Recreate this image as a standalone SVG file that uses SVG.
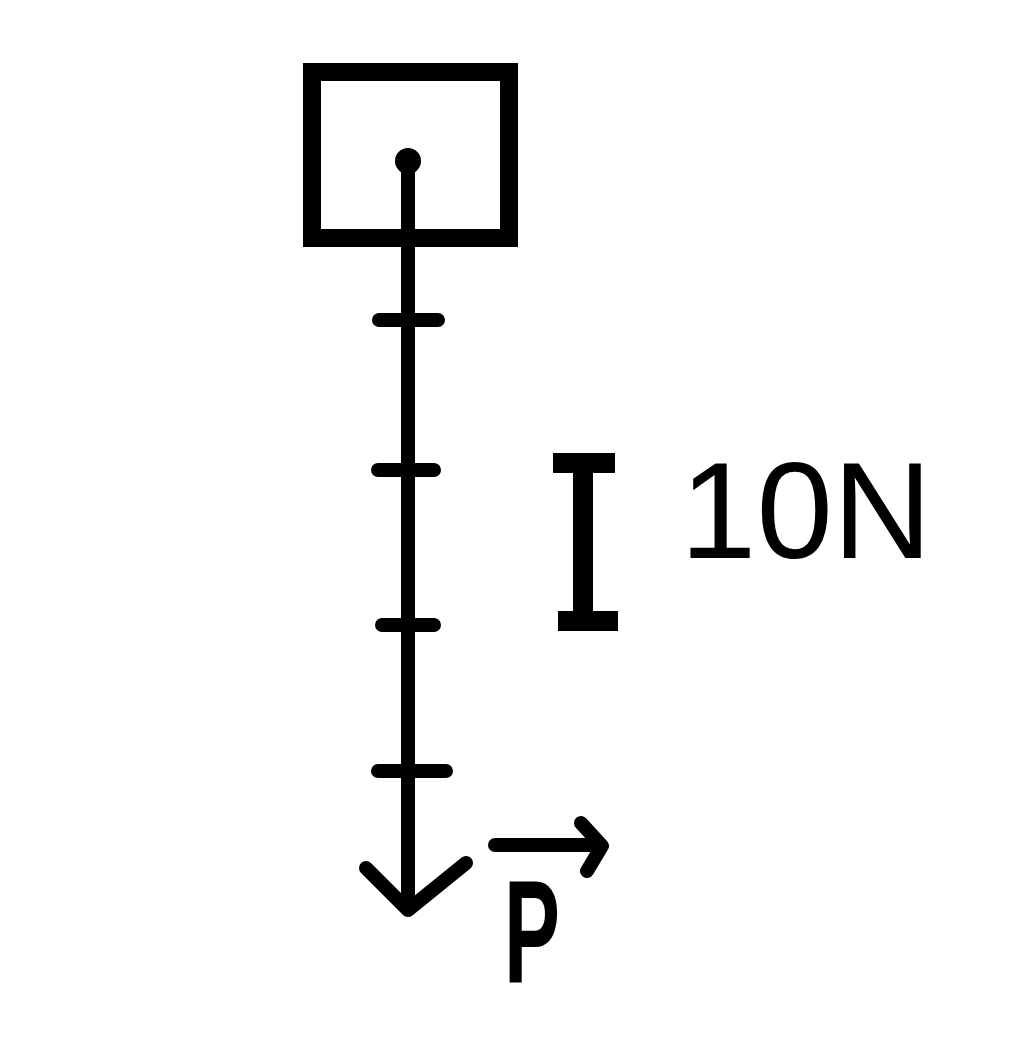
<svg xmlns="http://www.w3.org/2000/svg" width="1024" height="1063" viewBox="0 0 1024 1063">
<style>
.ln{fill:none;stroke:#000;stroke-width:14;stroke-linecap:round;stroke-linejoin:round}
.lbl{font-family:"Liberation Sans","DejaVu Sans",sans-serif;fill:#000}
</style>
<rect width="1024" height="1063" fill="#fff"/>
<g id="box">
<rect x="312" y="72" width="197" height="166" fill="none" stroke="#000" stroke-width="18"/>
</g>
<g id="point">
<circle cx="408" cy="161" r="13" fill="#000"/>
</g>
<g id="connectors">
<path class="ln" d="M408 161 V908"/>
<path class="ln" d="M366 868 L408 910 L466 863"/>
<path class="ln" d="M379 320 H438 M378 470 H434 M382 625 H434 M378 771 H446"/>
</g>
<g id="scale">
<path fill="none" stroke="#000" stroke-width="20" d="M553 463 H615 M583 463 V621 M558 621 H618"/>
</g>
<g id="label-10N">
<text class="lbl" x="680" y="558" font-size="138" textLength="252" lengthAdjust="spacingAndGlyphs">10N</text>
</g>
<g id="label-P">
<text class="lbl" x="504" y="983" font-size="147" font-weight="bold" textLength="56" lengthAdjust="spacingAndGlyphs">P</text>
<path class="ln" d="M495 845 H601 M581 823 L602 846 L587 871"/>
</g>
</svg>
